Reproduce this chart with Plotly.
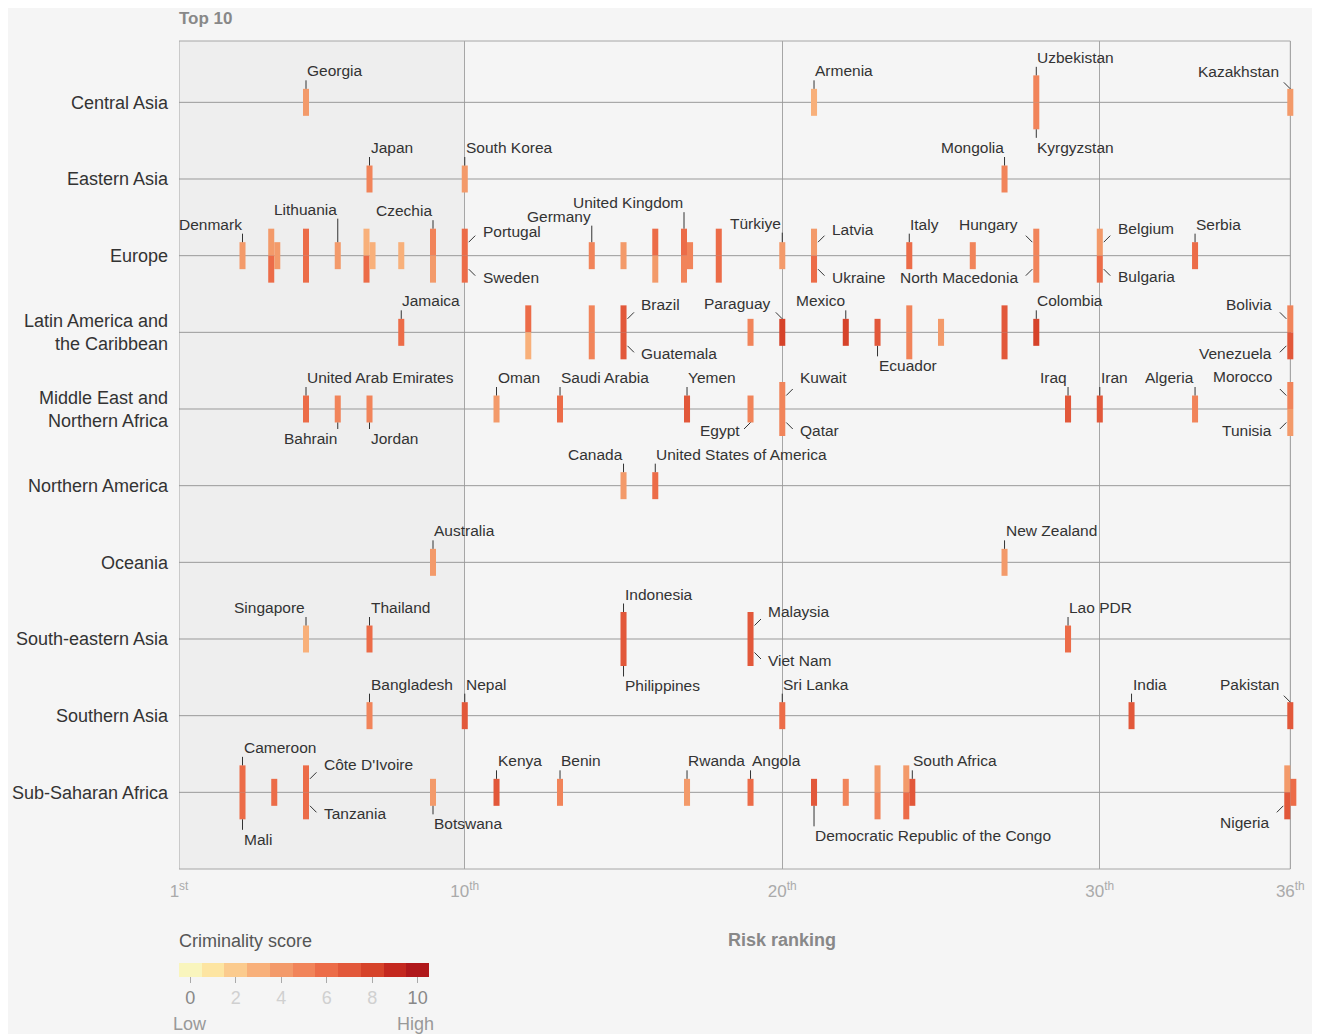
import plotly.graph_objects as go
from collections import defaultdict

# regions, top to bottom
regions = ["Central Asia", "Eastern Asia", "Europe", "Latin America and the Caribbean",
           "Middle East and Northern Africa", "Northern America", "Oceania",
           "South-eastern Asia", "Southern Asia", "Sub-Saharan Africa"]
region_ticks = ["Central Asia", "Eastern Asia", "Europe", "Latin America and<br>the Caribbean",
                "Middle East and<br>Northern Africa", "Northern America", "Oceania",
                "South-eastern Asia", "Southern Asia", "Sub-Saharan Africa"]

# (country, risk ranking, criminality score); unnamed countries carry no label in the chart
central_asia = [("Georgia", 5, 4), ("Armenia", 21, 3), ("Uzbekistan", 28, 5),
                ("Kyrgyzstan", 28, 5), ("Kazakhstan", 36, 4)]
eastern_asia = [("Japan", 7, 5), ("South Korea", 10, 4), ("Mongolia", 27, 5)]
europe = [("Denmark", 3, 4), ("", 4, 4), ("", 4, 6), ("", 4, 4), ("", 5, 6), ("", 5, 6),
          ("Lithuania", 6, 4), ("", 7, 3), ("", 7, 6), ("", 7, 3), ("", 8, 3),
          ("Czechia", 9, 5), ("", 9, 4), ("Portugal", 10, 6), ("Sweden", 10, 6),
          ("Germany", 14, 5), ("", 15, 4), ("", 16, 6), ("", 16, 4),
          ("United Kingdom", 17, 6), ("", 17, 5), ("", 17, 5), ("", 18, 6), ("", 18, 6),
          ("Türkiye", 20, 4), ("Latvia", 21, 4), ("Ukraine", 21, 6), ("Italy", 24, 6),
          ("", 26, 5), ("Hungary", 28, 5), ("North Macedonia", 28, 5),
          ("Belgium", 30, 4), ("Bulgaria", 30, 6), ("Serbia", 33, 6)]
latin_america = [("Jamaica", 8, 6), ("", 12, 6), ("", 12, 3), ("", 14, 5), ("", 14, 5),
                 ("Brazil", 15, 7), ("Guatemala", 15, 7), ("", 19, 5), ("Paraguay", 20, 8),
                 ("Mexico", 22, 8), ("Ecuador", 23, 7), ("", 24, 5), ("", 24, 5),
                 ("", 25, 4), ("", 27, 7), ("", 27, 7), ("Colombia", 28, 8),
                 ("Bolivia", 36, 5), ("Venezuela", 36, 7)]
mena = [("United Arab Emirates", 5, 6), ("Bahrain", 6, 5), ("Jordan", 7, 5), ("Oman", 11, 4),
        ("Saudi Arabia", 13, 6), ("Yemen", 17, 7), ("Egypt", 19, 5), ("Kuwait", 20, 5),
        ("Qatar", 20, 5), ("Iraq", 29, 7), ("Iran", 30, 7), ("Algeria", 33, 5),
        ("Morocco", 36, 5), ("Tunisia", 36, 4)]
northern_america = [("Canada", 15, 4), ("United States of America", 16, 6)]
oceania = [("Australia", 9, 4), ("New Zealand", 27, 4)]
se_asia = [("Singapore", 5, 3), ("Thailand", 7, 6), ("Indonesia", 15, 7), ("Philippines", 15, 7),
           ("Malaysia", 19, 7), ("Viet Nam", 19, 7), ("Lao PDR", 29, 6)]
southern_asia = [("Bangladesh", 7, 5), ("Nepal", 10, 7), ("Sri Lanka", 20, 6),
                 ("India", 31, 7), ("Pakistan", 36, 7)]
ss_africa = [("Cameroon", 3, 6), ("Mali", 3, 6), ("", 4, 6), ("Côte D'Ivoire", 5, 6),
             ("Tanzania", 5, 6), ("Botswana", 9, 4), ("Kenya", 11, 7), ("Benin", 13, 5),
             ("Rwanda", 17, 4), ("Angola", 19, 6), ("Democratic Republic of the Congo", 21, 7),
             ("", 22, 5), ("", 23, 4), ("", 23, 5), ("", 24, 4), ("", 24, 6),
             ("South Africa", 24, 7), ("", 36, 4), ("Nigeria", 36, 7), ("", 36, 6)]

region_data = [central_asia, eastern_asia, europe, latin_america, mena,
               northern_america, oceania, se_asia, southern_asia, ss_africa]

score_colors = ["#f9f5bd", "#fde5a2", "#fbcb8e", "#f8b07a", "#f39a6a", "#f1845a",
                "#ec6c48", "#e2583a", "#d6432a", "#c4281f", "#b0181b"]

# label placement: direction and leader length / text offset (px)
label_pos = {
    "Georgia": ("n", 10), "Armenia": ("n", 10), "Uzbekistan": ("n", 10),
    "Kyrgyzstan": ("s", 10), "Kazakhstan": ("nw", 17),
    "Japan": ("n", 10), "South Korea": ("n", 10), "Mongolia": ("nl", 10),
    "Denmark": ("nl", 10), "Lithuania": ("nl", 25), "Czechia": ("nl", 10),
    "Portugal": ("ne", 11), "Sweden": ("se", 8), "Germany": ("nl", 18),
    "United Kingdom": ("nl", 18), "Türkiye": ("nl", 11), "Latvia": ("ne", 13),
    "Ukraine": ("se", 8), "Italy": ("n", 10), "Hungary": ("nw", 18),
    "North Macedonia": ("sw", 8), "Belgium": ("ne", 14), "Bulgaria": ("se", 7),
    "Serbia": ("n", 10),
    "Jamaica": ("n", 10), "Brazil": ("ne", 14), "Guatemala": ("se", 8),
    "Paraguay": ("nw", 15), "Mexico": ("nl", 10), "Ecuador": ("s", 12),
    "Colombia": ("n", 10), "Bolivia": ("nw", 14), "Venezuela": ("sw", 8),
    "United Arab Emirates": ("n", 10), "Bahrain": ("sl", 8), "Jordan": ("s", 8),
    "Oman": ("n", 10), "Saudi Arabia": ("n", 10), "Yemen": ("n", 10),
    "Egypt": ("sw", 8), "Kuwait": ("ne", 18), "Qatar": ("se", 8), "Iraq": ("nl", 10),
    "Iran": ("n", 10), "Algeria": ("nl", 10), "Morocco": ("nw", 19), "Tunisia": ("sw", 8),
    "Canada": ("nl", 10), "United States of America": ("n", 10),
    "Australia": ("n", 10), "New Zealand": ("n", 10),
    "Singapore": ("nl", 10), "Thailand": ("n", 10), "Indonesia": ("n", 10),
    "Philippines": ("s", 12), "Malaysia": ("ne", 14), "Viet Nam": ("se", 8),
    "Lao PDR": ("n", 10),
    "Bangladesh": ("n", 10), "Nepal": ("n", 10), "Sri Lanka": ("n", 10),
    "India": ("n", 10), "Pakistan": ("nw", 18),
    "Cameroon": ("n", 10), "Mali": ("s", 12), "Côte D'Ivoire": ("ne", 14),
    "Tanzania": ("se", 8), "Botswana": ("s", 10), "Kenya": ("n", 10), "Benin": ("n", 10),
    "Rwanda": ("n", 10), "Angola": ("n", 10), "Democratic Republic of the Congo": ("s", 22),
    "South Africa": ("n", 10), "Nigeria": ("sw", 17),
}

FONT = "Liberation Sans, Arial, Helvetica, sans-serif"
BAR_W = 0.19   # x units (rank)
BAR_H = 0.352  # y units (region row)

# place bars: shared rank within a region -> split above/below the line, a third one beside
groups = defaultdict(list)
for ri, rows in enumerate(region_data):
    for name, rank, score in rows:
        groups[(ri, rank)].append((name, score))

xs, bases, scores, names, slots = [], [], [], [], []
for (ri, rank), members in groups.items():
    n = len(members)
    for j, (name, score) in enumerate(members):
        if n == 1:
            x, base, slot = rank, ri - BAR_H / 2, "c"
        elif j < 2:
            x = rank - BAR_W / 2 if n == 3 else rank
            base, slot = (ri - BAR_H, "t") if j == 0 else (ri, "b")
        else:
            x, base, slot = rank + BAR_W / 2, ri - BAR_H / 2, "c"
        xs.append(x)
        bases.append(base)
        scores.append(score)
        names.append(name)
        slots.append(slot)

colorscale = []
for k, c in enumerate(score_colors):
    colorscale.append([k / 11, c])
    colorscale.append([(k + 1) / 11, c])

bars = go.Bar(
    x=xs, y=[BAR_H] * len(xs), base=bases, width=[BAR_W] * len(xs),
    hovertext=names, hoverinfo="text",
    marker=dict(
        color=scores, colorscale=colorscale, cmin=-0.5, cmax=10.5, line=dict(width=0),
        colorbar=dict(
            orientation="h", x=0, xanchor="left", y=-0.1135, yanchor="top",
            lenmode="pixels", len=250, thickness=14, xpad=0, ypad=0, outlinewidth=0,
            tickvals=[0, 2, 4, 6, 8, 10],
            ticktext=["0", "<span style='color:#d0d0d0'>2</span>",
                      "<span style='color:#d0d0d0'>4</span>",
                      "<span style='color:#d0d0d0'>6</span>",
                      "<span style='color:#d0d0d0'>8</span>", "10"],
            ticks="outside", ticklen=6, tickcolor="#aaa",
            tickfont=dict(size=18, color="#888", family=FONT),
        ),
    ),
)

fig = go.Figure(bars)

annotations = []
for x, base, name, slot in zip(xs, bases, names, slots):
    if name not in label_pos:
        continue
    d, L = label_pos[name]
    top, bottom, mid = base, base + BAR_H, base + BAR_H / 2
    if d in ("n", "nl", "s", "sl"):
        north = d[0] == "n"
        hx, hy = x, (top if north else bottom)
        ax, ay = 0, (-L if north else L)
        xshift = -1 if len(d) == 1 else 1
        yshift = (L + 8) if north else -(L + 8)
        xanchor = "left" if len(d) == 1 else "right"
    else:
        sx = 1 if d[1] == "e" else -1
        sy = -1 if d[0] == "n" else 1
        if slot == "c":
            # lone bar: leader leaves from the top / bottom of the bar
            hx, hy = x, (top if sy < 0 else bottom)
            xshift = sx * 9
        else:
            hx, hy = x + sx * (BAR_W / 2 + 0.03), mid
            xshift = sx * 12
        ax, ay = sx * 8, sy * 8
        yshift = -sy * L
        xanchor = "left" if sx > 0 else "right"
    annotations.append(dict(x=hx, y=hy, xref="x", yref="y", text="", showarrow=True,
                            ax=ax, ay=ay, arrowhead=0, arrowwidth=1, arrowcolor="#333",
                            standoff=0, startstandoff=0))
    annotations.append(dict(x=hx, y=hy, xref="x", yref="y", text=name, showarrow=False,
                            xanchor=xanchor, yanchor="middle", xshift=xshift, yshift=yshift,
                            font=dict(size=15.5, color="#333", family=FONT)))

annotations += [
    dict(text="<b>Top 10</b>", x=0, y=1.0266, xref="paper", yref="paper", xanchor="left",
         yanchor="middle", xshift=-2, showarrow=False, font=dict(size=17, color="#888", family=FONT)),
    dict(text="<b>Risk ranking</b>", x=20, y=-0.0857, xref="x", yref="paper", xanchor="center",
         yanchor="middle", showarrow=False, font=dict(size=18, color="#888", family=FONT)),
    dict(text="Criminality score", x=0, y=-0.087, xref="paper", yref="paper", xanchor="left",
         yanchor="middle", xshift=-2, showarrow=False, font=dict(size=18, color="#555", family=FONT)),
    dict(text="Low", x=-0.007, y=-0.187, xref="paper", yref="paper", xanchor="left",
         yanchor="middle", showarrow=False, font=dict(size=18, color="#999", family=FONT)),
    dict(text="High", x=0.229, y=-0.187, xref="paper", yref="paper", xanchor="right",
         yanchor="middle", showarrow=False, font=dict(size=18, color="#999", family=FONT)),
]

shapes = [dict(type="rect", xref="x", yref="paper", x0=1, x1=10, y0=0, y1=1,
               fillcolor="#eeeeee", line=dict(width=0), layer="below")]
for ri in range(len(regions)):
    shapes.append(dict(type="line", xref="x", yref="y", x0=1, x1=36, y0=ri, y1=ri,
                       line=dict(color="#999", width=1), layer="between"))
shapes.append(dict(type="rect", xref="x", yref="paper", x0=1, x1=36, y0=0, y1=1,
                   line=dict(color="#a6a6a6", width=1), layer="between"))

# the page body adds an 8px margin, so the figure is 8px smaller on each side
fig.update_layout(
    width=1312, height=1026,
    margin=dict(l=171, r=17, t=33, b=165, autoexpand=False),
    paper_bgcolor="#f5f5f5", plot_bgcolor="#f5f5f5",
    barmode="overlay", showlegend=False,
    font=dict(family=FONT, color="#333"),
    xaxis=dict(range=[1, 36.4], tickvals=[1, 10, 20, 30, 36],
               ticktext=["1<sup>st</sup>", "10<sup>th</sup>", "20<sup>th</sup>",
                         "30<sup>th</sup>", "36<sup>th</sup>"],
               showgrid=True, gridcolor="#a6a6a6", gridwidth=1, zeroline=False,
               showline=False, ticks="", ticklabelstandoff=10, automargin=False,
               tickfont=dict(size=17, color="#aaa", family=FONT)),
    yaxis=dict(range=[10, -0.8], tickvals=list(range(len(regions))), ticktext=region_ticks,
               showgrid=False, zeroline=False, showline=False, ticks="", automargin=False,
               ticklabelstandoff=10, tickfont=dict(size=18, color="#333", family=FONT)),
    annotations=annotations, shapes=shapes,
)

fig.write_html("out.html")
